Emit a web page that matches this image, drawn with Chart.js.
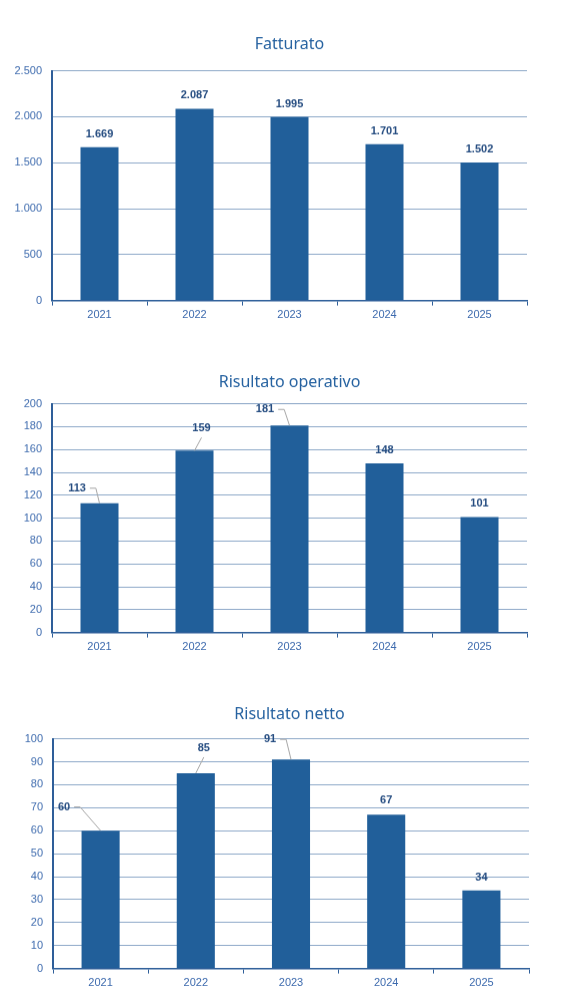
<!DOCTYPE html>
<html>
<head>
<meta charset="utf-8">
<script src="https://cdn.jsdelivr.net/npm/chart.js@4.4.1/dist/chart.umd.min.js"></script>
<style>
  body { margin: 0; background: #fff; }
  .box { position: absolute; left: 0; width: 579px; }
</style>
</head>
<body>
<div class="box" id="b1" style="top:29.4px;height:300.6px"><canvas id="c1"></canvas></div>
<div class="box" id="b2" style="top:367.4px;height:294.6px"><canvas id="c2"></canvas></div>
<div class="box" id="b3" style="top:699.4px;height:298.6px"><canvas id="c3"></canvas></div>
<script>
const BAR_COLOR = '#215F9A';
const AXIS_COLOR = '#2E5E99';
const GRID_COLOR = '#8EA9C8';
const TICK_COLOR = '#3E6BAE';
const LABEL_COLOR = '#254C80';
const TITLE_COLOR = '#2662A0';
const LEADER_COLOR = '#A6A6A6';

const years = ['2021', '2022', '2023', '2024', '2025'];
const fatturato = [1669, 2087, 1995, 1701, 1502];
const risultatoOperativo = [113, 159, 181, 148, 101];
const risultatoNetto = [60, 85, 91, 67, 34];

function fmt(v) {
    return String(v).replace(/\B(?=(\d{3})+(?!\d))/g, '.');
}

// draws value labels, with a grey leader line where the label was moved away
const valueLabels = {
    id: 'valueLabels',
    afterDatasetsDraw(chart, args, opts) {
        const ctx = chart.ctx;
        const meta = chart.getDatasetMeta(0);
        const data = chart.data.datasets[0].data;
        ctx.save();
        ctx.font = 'bold 11px "Liberation Sans", Arial, sans-serif';
        ctx.textAlign = 'center';
        ctx.textBaseline = 'middle';
        meta.data.forEach((bar, i) => {
            const off = opts.offsets[i];
            const lx = bar.x + off[0];
            const ly = bar.y + off[1];
            const text = fmt(data[i]);
            const w = ctx.measureText(text).width;
            const lead = opts.leaders[i];
            if (lead) {
                ctx.strokeStyle = LEADER_COLOR;
                ctx.lineWidth = 1;
                ctx.beginPath();
                if (lead === 'side') {
                    ctx.moveTo(lx + w / 2 + 4, ly);
                    ctx.lineTo(lx + w / 2 + 10, ly);
                } else {
                    ctx.moveTo(lx, ly + 9);
                }
                ctx.lineTo(bar.x, bar.y);
                ctx.stroke();
            }
            ctx.fillStyle = LABEL_COLOR;
            ctx.fillText(text, lx, ly);
        });
        ctx.restore();
    }
};

function makeChart(id, title, values, max, step, titleBottom, leftW, rightW, offsets, leaders) {
    return new Chart(document.getElementById(id), {
        type: 'bar',
        data: {
            labels: years,
            datasets: [{
                data: values,
                backgroundColor: BAR_COLOR,
                categoryPercentage: 1,
                barPercentage: 0.4
            }]
        },
        plugins: [valueLabels],
        options: {
            responsive: true,
            maintainAspectRatio: false,
            animation: false,
            layout: { padding: 0 },
            plugins: {
                legend: { display: false },
                tooltip: { enabled: false },
                title: {
                    display: true,
                    text: title,
                    color: TITLE_COLOR,
                    font: { family: '"Noto Sans", sans-serif', size: 16, weight: 'normal' },
                    padding: { top: 6, bottom: titleBottom - 2 }
                },
                valueLabels: { offsets: offsets, leaders: leaders }
            },
            scales: {
                x: {
                    afterFit(scale) { scale.height = 30; },
                    grid: {
                        drawOnChartArea: false,
                        color: AXIS_COLOR,
                        tickLength: 5,
                        offset: true
                    },
                    border: { color: AXIS_COLOR, width: 1.5 },
                    ticks: {
                        color: TICK_COLOR,
                        padding: 3,
                        font: { family: '"Liberation Sans", Arial, sans-serif', size: 11 }
                    }
                },
                y: {
                    min: 0,
                    max: max,
                    afterFit(scale) { scale.width = leftW; },
                    grid: { color: GRID_COLOR, drawTicks: false },
                    border: { color: AXIS_COLOR, width: 2 },
                    ticks: {
                        stepSize: step,
                        color: TICK_COLOR,
                        padding: 10,
                        font: { family: '"Liberation Sans", Arial, sans-serif', size: 11 },
                        callback: v => fmt(v)
                    }
                },
                // empty right margin so the title centres on the page
                side: {
                    position: 'right',
                    afterFit(scale) { scale.width = rightW; },
                    grid: { display: false },
                    border: { display: false },
                    ticks: { display: false }
                }
            }
        }
    });
}

makeChart('c1', 'Fatturato', fatturato, 2500, 500, 18.4, 52, 52,
    [[0, -13], [0, -13], [0, -13], [0, -13], [0, -13]],
    [null, null, null, null, null]);

makeChart('c2', 'Risultato operativo', risultatoOperativo, 200, 20, 13.4, 52, 52,
    [[-22.5, -15], [7, -22], [-24.5, -16], [0, -13], [0, -13]],
    ['side', 'below', 'side', null, null]);

makeChart('c3', 'Risultato netto', risultatoNetto, 100, 10, 16.4, 53, 50,
    [[-36.6, -23.6], [8, -25], [-21, -20], [0, -14], [0, -13]],
    ['side', 'below', 'side', null, null]);
</script>
</body>
</html>
